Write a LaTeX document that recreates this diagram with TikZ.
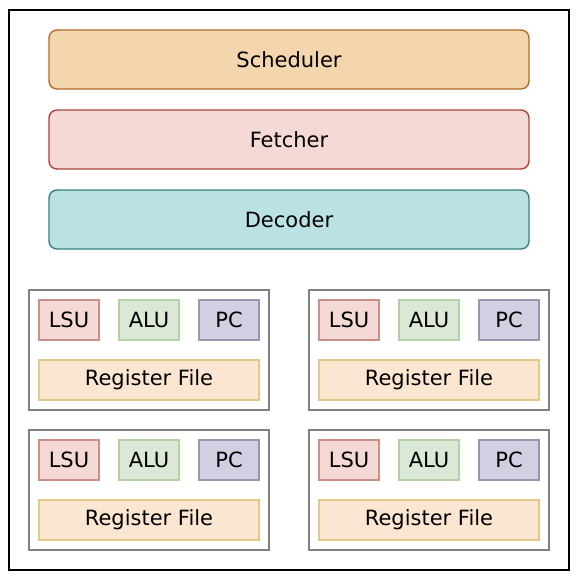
\documentclass[tikz,border=0pt]{standalone}
\usepackage{fontspec}
\setmainfont{DejaVu Sans}
\newcommand\myfs{\fontsize{21pt}{24pt}\selectfont}
\definecolor{schF}{HTML}{F3D6AE}\definecolor{schD}{HTML}{B46A28}
\definecolor{fetF}{HTML}{F5D9D5}\definecolor{fetD}{HTML}{A8443A}
\definecolor{decF}{HTML}{BAE2E4}\definecolor{decD}{HTML}{3A7E80}
\definecolor{lsuF}{HTML}{F5D9D5}\definecolor{lsuD}{HTML}{C98E86}
\definecolor{aluF}{HTML}{DAE8D5}\definecolor{aluD}{HTML}{B5D0A6}
\definecolor{pcF}{HTML}{D1D0E3}\definecolor{pcD}{HTML}{9B96B0}
\definecolor{rfF}{HTML}{FBE7D1}\definecolor{rfD}{HTML}{E4C88A}
\definecolor{grpD}{HTML}{808080}
\tikzset{
  big/.style={draw, line width=1.4pt, rounded corners=8pt, minimum width=480pt, minimum height=59pt, inner sep=0pt, font=\myfs},
  small/.style={draw, line width=1.3pt, minimum width=60pt, minimum height=40pt, inner sep=0pt, font=\myfs},
  rf/.style={draw=rfD, fill=rfF, line width=1.3pt, minimum width=220pt, minimum height=40pt, inner sep=0pt, font=\myfs},
  grp/.style={draw=grpD, line width=1.6pt, minimum width=240pt, minimum height=120pt, inner sep=0pt},
}
\begin{document}
\begin{tikzpicture}[x=1pt,y=-1pt]
\useasboundingbox (0,0) rectangle (584,584);
\node[draw=black, line width=2pt, minimum width=560pt, minimum height=560pt, inner sep=0pt] (outer) at (289,290) {};
\node[big, draw=schD, fill=schF] (sched) at (289,59.5) {Scheduler};
\node[big, draw=fetD, fill=fetF] (fetch) at (289,139.5) {Fetcher};
\node[big, draw=decD, fill=decF] (dec) at (289,219.5) {Decoder};
\foreach \gx/\gy/\n in {29/290/a, 309/290/b, 29/430/c, 309/430/d}{
  \node[grp] (g\n) at (\gx+120,\gy+60) {};
  \node[small, draw=lsuD, fill=lsuF] (lsu\n) at (\gx+40,\gy+30) {LSU};
  \node[small, draw=aluD, fill=aluF] (alu\n) at (\gx+120,\gy+30) {ALU};
  \node[small, draw=pcD, fill=pcF] (pc\n) at (\gx+200,\gy+30) {PC};
  \node[rf] (rf\n) at (\gx+120,\gy+90) {Register File};
}
\end{tikzpicture}
\end{document}
